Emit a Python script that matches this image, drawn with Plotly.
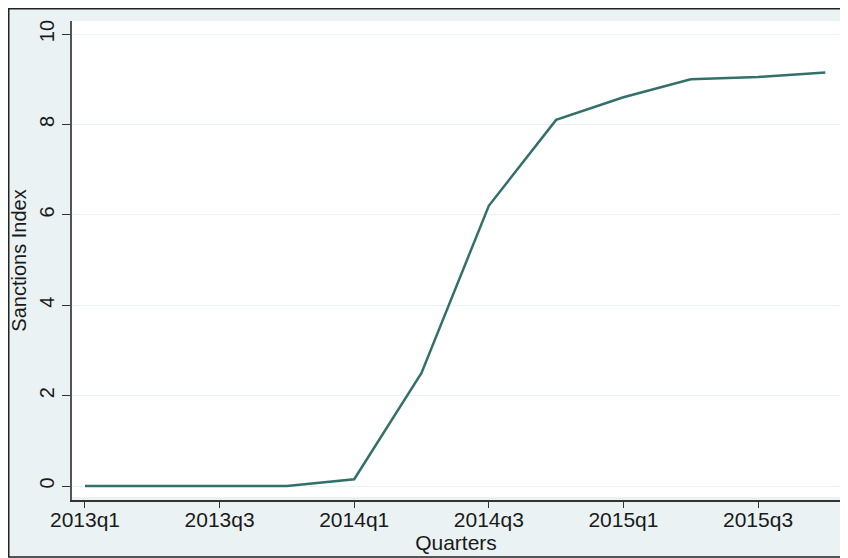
import plotly.graph_objects as go

quarters = ["2013q1", "2013q2", "2013q3", "2013q4",
            "2014q1", "2014q2", "2014q3", "2014q4",
            "2015q1", "2015q2", "2015q3", "2015q4"]
sanctions_index = [0.0, 0.0, 0.0, 0.0, 0.15, 2.5, 6.2, 8.1, 8.6, 9.0, 9.05, 9.15]
y_ticks = [0, 2, 4, 6, 8, 10]
x_ticks = ["2013q1", "2013q3", "2014q1", "2014q3", "2015q1", "2015q3"]

# figure is placed at an 8px offset by the page body margin
W, H = 840, 550
L, R, T, B = 64, 8, 13, 58
PW, PH = W - L - R, H - T - B


def px_x(px):
    return (px - L) / PW


def px_y(py):
    return (H - B - py) / PH


fig = go.Figure()
fig.add_trace(go.Scatter(
    x=quarters, y=sanctions_index, mode="lines",
    line=dict(color="#33706a", width=2.5), showlegend=False,
))

fig.update_layout(
    width=W, height=H,
    margin=dict(l=L, r=R, t=T, b=B),
    paper_bgcolor="#eaf2f3",
    plot_bgcolor="white",
    font=dict(family="Liberation Sans, Arial, sans-serif", size=20, color="#1a1a1a"),
    shapes=[
        dict(type="rect", xref="paper", yref="paper", layer="below",
             x0=px_x(0.75), x1=px_x(870), y0=px_y(549), y1=px_y(0.75),
             fillcolor="#eaf2f3", line=dict(color="#222222", width=1.5)),
        dict(type="rect", xref="paper", yref="paper", layer="below",
             x0=px_x(64), x1=px_x(833), y0=px_y(489), y1=px_y(13),
             fillcolor="white", line=dict(width=0)),
    ],
    xaxis=dict(
        type="category",
        range=[-0.193, 11.218],
        tickmode="array", tickvals=x_ticks, ticktext=x_ticks,
        tickfont=dict(size=21),
        ticks="outside", ticklen=6, tickwidth=1.2, tickcolor="#333333",
        ticklabelstandoff=-6,
        showline=True, linecolor="#333333", linewidth=1.5,
        showgrid=False, zeroline=False,
        title=dict(text="Quarters", standoff=0, font=dict(size=21)),
    ),
    yaxis=dict(
        range=[-0.309, 10.288],
        tickmode="array", tickvals=y_ticks,
        tickangle=-90,
        ticks="outside", ticklen=8, tickwidth=1.2, tickcolor="#333333",
        showline=True, linecolor="#555555", linewidth=1.5,
        showgrid=True, gridcolor="#eaf2f3", gridwidth=1,
        zeroline=False,
        title=dict(text="Sanctions Index", standoff=4, font=dict(size=20)),
    ),
)

fig.write_html("out.html")
